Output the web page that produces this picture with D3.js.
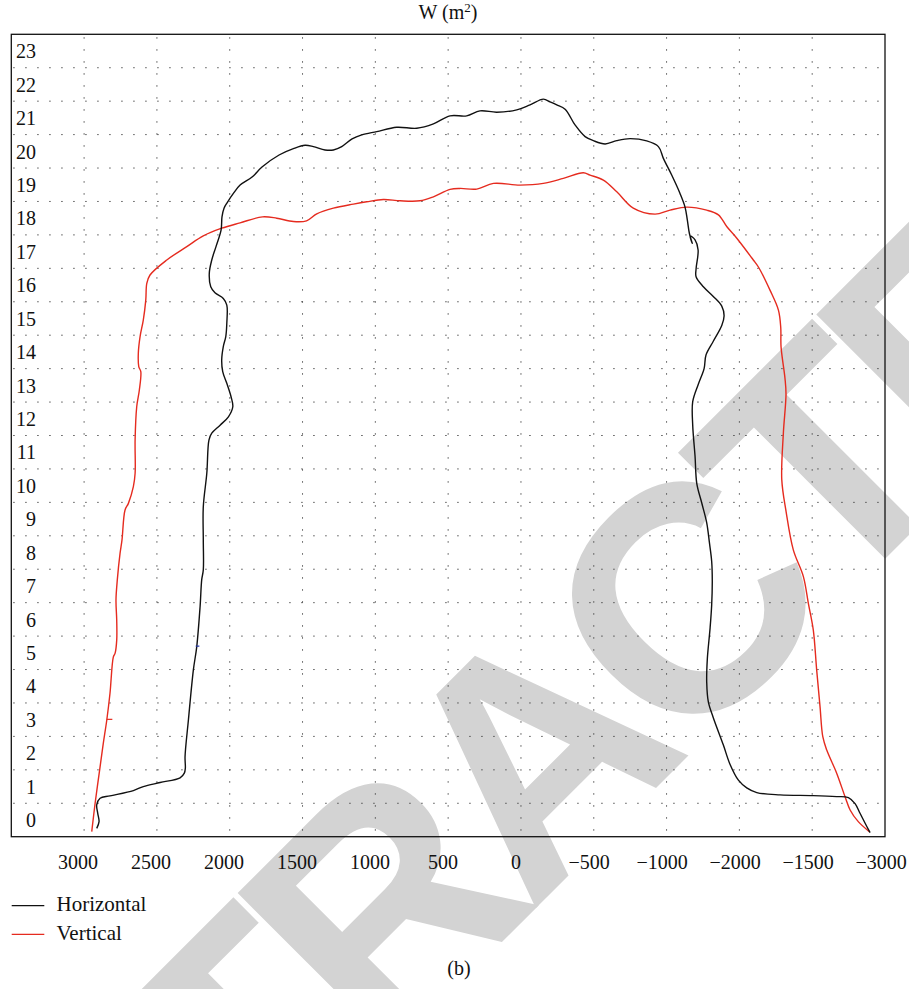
<!DOCTYPE html>
<html><head><meta charset="utf-8">
<script src="https://cdn.jsdelivr.net/npm/d3@7"></script>
<style>body{margin:0;background:#fff}svg{display:block}</style>
</head><body>
<svg id="chart" width="909" height="989"></svg>
<script>
// ---- data ----
const xTickValues = [3000, 2500, 2000, 1500, 1000, 500, 0, -500, -1000, -1500, -2000, -2500];
const xTickLabels = ["3000", "2500", "2000", "1500", "1000", "500", "0", "\u2212500", "\u22121000", "\u22122000", "\u22121500", "\u22123000"];
const yTickValues = [0,1,2,3,4,5,6,7,8,9,10,11,12,13,14,15,16,17,18,19,20,21,22,23];
const seriesNames = ["Horizontal", "Vertical"];

const horizontalX = [2872,2856,2865,2872,2849,2781,2621,2553,2438,2301,2272,2265,2267,2244,2210,2187,2164,2153,2142,2142,2142,2118,2103,2084,2027,1970,1940,1952,1981,2009,2016,2005,1988,1981,1981,2005,2062,2091,2101,2084,2055,2020,2014,2000,1976,1936,1890,1808,1740,1623,1525,1445,1388,1308,1251,1194,1123,1057,954,817,680,566,452,338,247,132,-5,-96,-187,-233,-279,-336,-404,-473,-529,-610,-690,-781,-895,-975,-1009,-1066,-1123,-1157,-1173,-1187,-1207,-1192,-1226,-1247,-1233,-1233,-1283,-1351,-1409,-1425,-1409,-1351,-1301,-1288,-1249,-1210,-1210,-1226,-1238,-1272,-1306,-1324,-1340,-1344,-1340,-1329,-1310,-1306,-1317,-1351,-1420,-1466,-1523,-1580,-1649,-1808,-2036,-2196,-2276,-2322,-2356,-2390,-2425];
const horizontalY = [-0.25,-0.05,0.20,0.45,0.65,0.72,0.88,1.00,1.12,1.26,1.40,1.55,1.89,2.99,4.49,5.18,6.38,7.18,7.48,8.37,9.37,10.37,11.37,11.57,11.81,12.06,12.36,12.66,13.06,13.41,13.76,14.16,14.46,14.86,15.40,15.60,15.77,15.95,16.35,16.75,17.15,17.65,18.04,18.30,18.48,18.74,18.99,19.23,19.53,19.89,20.08,20.18,20.14,20.04,20.04,20.14,20.37,20.49,20.59,20.72,20.69,20.82,21.06,21.06,21.21,21.17,21.24,21.39,21.56,21.48,21.39,21.26,20.79,20.44,20.32,20.22,20.32,20.38,20.31,20.14,19.79,19.29,18.74,18.34,17.95,17.55,17.25,17.47,17.35,17.05,16.48,16.25,15.95,15.66,15.37,15.08,14.79,14.32,13.91,13.50,13.04,12.51,11.81,10.88,10.06,9.48,8.89,8.31,7.73,7.14,6.44,5.74,4.81,4.11,3.53,3.06,2.24,1.66,1.19,0.96,0.82,0.75,0.73,0.70,0.67,0.49,0.20,-0.09,-0.38];

const verticalX = [2906,2883,2849,2827,2803,2781,2758,2746,2735,2735,2740,2731,2712,2699,2678,2655,2621,2609,2609,2598,2580,2570,2584,2587,2575,2553,2536,2529,2507,2392,2255,2142,2016,1890,1736,1639,1525,1435,1365,1251,1114,1023,909,794,658,566,452,384,269,155,-27,-187,-324,-461,-507,-598,-690,-803,-952,-1055,-1169,-1306,-1386,-1443,-1512,-1625,-1660,-1740,-1797,-1813,-1815,-1842,-1849,-1831,-1820,-1849,-1899,-1968,-2002,-2036,-2059,-2082,-2101,-2128,-2196,-2253,-2288,-2344,-2420];
const verticalY = [-0.35,0.50,1.59,2.29,2.99,3.79,4.88,4.99,5.38,5.98,6.58,7.18,7.98,8.37,9.27,9.47,9.97,10.37,11.37,12.36,12.86,13.41,13.56,13.96,14.46,14.95,15.55,16.05,16.30,16.75,17.15,17.47,17.70,17.86,18.04,18.00,17.90,17.92,18.13,18.30,18.42,18.49,18.56,18.52,18.52,18.64,18.86,18.89,18.87,19.04,18.99,19.04,19.19,19.36,19.29,19.14,18.79,18.30,18.12,18.24,18.33,18.24,18.10,17.75,17.40,16.75,16.54,15.84,15.25,14.73,14.15,13.21,12.74,11.58,10.18,9.24,8.08,7.28,6.48,5.68,4.49,3.39,2.49,2.09,1.40,0.70,0.30,-0.05,-0.35];

// small stray marks visible in the original
const blueTickX = [2194, 2169], blueTickY = [5.20, 5.20];
const redTickX = [2803, 2765], redTickY = [3.01, 3.01];

// ---- layout ----
const svg = d3.select("#chart");
const frame = {left: 11.3, right: 885, top: 34.3, bottom: 836.7};
const x = d3.scaleLinear().domain([3457, -2527]).range([frame.left, frame.right]);
const y = d3.scaleLinear().domain([-0.5, 23.5]).range([frame.bottom, frame.top]);
const serif = "'Liberation Serif','Times New Roman',serif";

// watermark (beneath everything)
svg.append("text")
  .attr("transform", "translate(-36,1480) rotate(-45)")
  .attr("text-anchor", "start")
  .attr("font-family", "'Liberation Sans',Arial,sans-serif")
  .attr("font-weight", "bold")
  .attr("font-size", 322)
  .attr("letter-spacing", -19)
  .attr("fill", "#d3d3d3")
  .text("RETRACTED");

// grid
const gridColor = "#3a3a3a";
const gridStep = (x.invert(frame.right) - x.invert(frame.left)) / 12;
const gx = d3.range(1, 12).map(k => x.invert(frame.left) + gridStep * k);
svg.append("g").selectAll("line").data(gx).join("line")
  .attr("x1", d => x(d)).attr("x2", d => x(d))
  .attr("y1", frame.top + 3).attr("y2", frame.bottom)
  .attr("stroke", gridColor).attr("stroke-width", 1)
  .attr("stroke-dasharray", "1.3,10.7");
const gy = d3.range(0, 23).map(k => k + 0.5);
svg.append("g").selectAll("line").data(gy).join("line")
  .attr("x1", frame.left + 2).attr("x2", frame.right)
  .attr("y1", d => y(d)).attr("y2", d => y(d))
  .attr("stroke", gridColor).attr("stroke-width", 1)
  .attr("stroke-dasharray", "1.3,10.7");

// frame
svg.append("rect")
  .attr("x", frame.left).attr("y", frame.top)
  .attr("width", frame.right - frame.left).attr("height", frame.bottom - frame.top)
  .attr("fill", "none").attr("stroke", "#111").attr("stroke-width", 1.3);

// y tick labels
svg.append("g").selectAll("text").data(yTickValues).join("text")
  .attr("x", 36).attr("y", d => y(d) + 7.2)
  .attr("text-anchor", "end")
  .attr("font-family", serif).attr("font-size", 20).attr("fill", "#111")
  .text(d => d);

// x tick labels
svg.append("g").selectAll("text").data(xTickValues).join("text")
  .attr("x", d => x(d)).attr("y", 869)
  .attr("text-anchor", "middle")
  .attr("font-family", serif).attr("font-size", 20).attr("fill", "#111")
  .text((d, i) => xTickLabels[i]);

// title
const title = svg.append("text").attr("x", 448).attr("y", 19)
  .attr("text-anchor", "middle")
  .attr("font-family", serif).attr("font-size", 20).attr("fill", "#111");
title.append("tspan").text("W (m");
title.append("tspan").attr("dy", -7).attr("font-size", 13).text("2");
title.append("tspan").attr("dy", 7).text(")");

// curves
const line = d3.line().x(d => x(d[0])).y(d => y(d[1])).curve(d3.curveCatmullRom.alpha(0.5));
const hData = horizontalX.map((v, i) => [v, horizontalY[i]]);
const vData = verticalX.map((v, i) => [v, verticalY[i]]);
const colors = {Horizontal: "#111111", Vertical: "#e52b1f"};

svg.append("path").datum(vData).attr("d", line)
  .attr("fill", "none").attr("stroke", colors.Vertical).attr("stroke-width", 1.4);
svg.append("path").datum(hData).attr("d", line)
  .attr("fill", "none").attr("stroke", colors.Horizontal).attr("stroke-width", 1.4);

const straight = d3.line().x(d => x(d[0])).y(d => y(d[1]));
svg.append("path").datum(blueTickX.map((v, i) => [v, blueTickY[i]])).attr("d", straight)
  .attr("stroke", "#2233aa").attr("stroke-width", 1.2).attr("fill", "none");
svg.append("path").datum(redTickX.map((v, i) => [v, redTickY[i]])).attr("d", straight)
  .attr("stroke", colors.Vertical).attr("stroke-width", 1.2).attr("fill", "none");

// legend
const legend = svg.append("g");
seriesNames.forEach((name, i) => {
  const ly = 905.7 + i * 28.6;
  legend.append("line").attr("x1", 11.7).attr("x2", 44.3).attr("y1", ly).attr("y2", ly)
    .attr("stroke", colors[name]).attr("stroke-width", 1.3);
  legend.append("text").attr("x", 56.5).attr("y", ly + 5.5)
    .attr("font-family", serif).attr("font-size", 21).attr("fill", "#111")
    .text(name);
});

// panel label
svg.append("text").attr("x", 459).attr("y", 975)
  .attr("text-anchor", "middle")
  .attr("font-family", serif).attr("font-size", 20).attr("fill", "#111")
  .text("(b)");
</script>
</body></html>
